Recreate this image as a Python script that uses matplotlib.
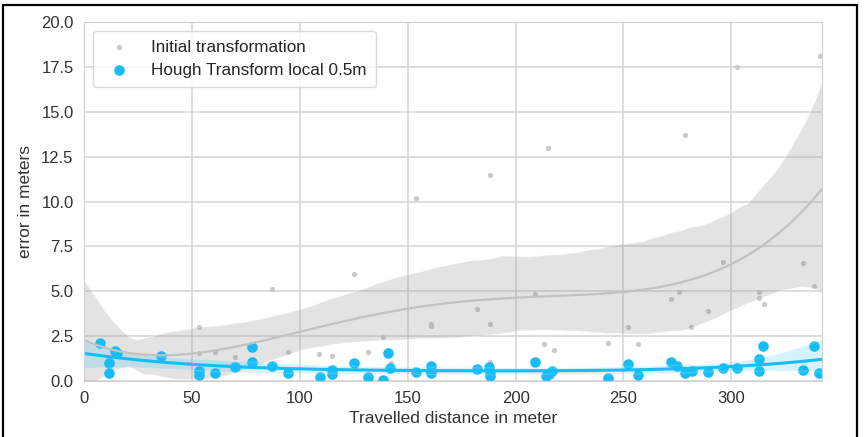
import matplotlib
matplotlib.use("Agg")
import matplotlib.pyplot as plt
import seaborn as sns
from matplotlib.lines import Line2D
from matplotlib.collections import PolyCollection

# Error of the initial transformation vs. travelled distance
init_dist = [7.4, 11.6, 15.0, 35.6, 53.2, 53.2, 60.6, 69.9, 87.0, 94.4, 108.8,
             115.0, 125.0, 131.5, 138.5, 142.5, 154.0, 160.6, 161.0, 182.0,
             188.0, 188.0, 188.0, 208.8, 213.4, 214.8, 217.6, 243.0, 252.0,
             256.5, 272.0, 275.5, 278.7, 281.5, 289.0, 296.0, 302.8, 313.0,
             313.0, 315.0, 333.3, 338.5, 341.0]
init_err = [2.12, 1.3, 1.5, 1.39, 3.0, 1.56, 1.62, 1.34, 5.1, 1.62, 1.5,
            1.4, 5.96, 1.6, 2.45, 1.0, 10.2, 3.2, 3.05, 4.0,
            11.5, 3.2, 1.06, 4.85, 2.06, 13.0, 1.73, 2.12, 3.0,
            2.06, 4.57, 4.96, 13.7, 3.0, 3.9, 6.63, 17.5, 4.96,
            4.6, 4.3, 6.57, 5.3, 18.1]

# Error after local Hough transform refinement
hough_dist = [7.4, 11.6, 11.6, 14.4, 15.3, 35.6, 53.2, 53.2, 60.6, 69.9, 77.7,
              77.8, 87.0, 94.4, 109.5, 115.0, 115.0, 125.0, 131.5, 138.5, 141.0,
              142.0, 154.0, 160.6, 161.0, 182.0, 187.6, 188.0, 188.0, 208.8,
              214.2, 215.7, 217.0, 243.0, 252.0, 256.5, 272.0, 275.0, 278.5,
              281.7, 289.0, 296.0, 302.6, 313.0, 313.0, 314.8, 333.3, 338.5,
              340.7]
hough_err = [2.12, 1.0, 0.44, 1.67, 1.56, 1.39, 0.56, 0.33, 0.44, 0.8, 1.06,
             1.89, 0.83, 0.44, 0.22, 0.61, 0.39, 1.0, 0.22, 0.06, 1.56,
             0.72, 0.5, 0.83, 0.44, 0.67, 0.8, 0.5, 0.28, 1.06,
             0.28, 0.39, 0.56, 0.17, 0.95, 0.33, 1.06, 0.83, 0.44,
             0.56, 0.5, 0.72, 0.72, 1.22, 0.56, 1.95, 0.61, 1.95,
             0.44]

x_ticks = [0, 50, 100, 150, 200, 250, 300]
y_ticks = [0.0, 2.5, 5.0, 7.5, 10.0, 12.5, 15.0, 17.5, 20.0]

sns.set_style("whitegrid")
plt.rcParams["font.family"] = ["Liberation Sans", "DejaVu Sans"]

fig = plt.figure(figsize=(8.64, 4.37), dpi=100)
ax = fig.add_axes([0.0972, 0.1281, 0.8542, 0.8216])
ax.set_xlim(0, 342)
ax.set_ylim(0, 20)

GRAY_PT = "#c9c9c9"
BLUE = "#16bdf7"

sns.regplot(x=init_dist, y=init_err, order=4, ax=ax, truncate=False, seed=3,
            label="Initial transformation",
            scatter_kws=dict(s=14, color=GRAY_PT, alpha=1, linewidths=0),
            line_kws=dict(color="#c2c2c2", lw=1.6))
n_before = len(ax.collections)
sns.regplot(x=hough_dist, y=hough_err, order=4, ax=ax, truncate=False, seed=3,
            label="Hough Transform local 0.5m",
            scatter_kws=dict(s=58, color=BLUE, alpha=1, linewidths=0),
            line_kws=dict(color=BLUE, lw=2.2))

# confidence bands
for i, c in enumerate(ax.collections):
    if isinstance(c, PolyCollection):
        if i < n_before:
            c.set_facecolor("#8a8a8a")
            c.set_alpha(0.23)
        else:
            c.set_facecolor(BLUE)
            c.set_alpha(0.17)

ax.set_xlim(0, 342)
ax.set_ylim(0, 20)
ax.set_xticks(x_ticks)
ax.set_yticks(y_ticks)
ax.set_yticklabels([f"{v:.1f}" for v in y_ticks])
ax.tick_params(labelsize=12, colors="#333333", pad=4)
ax.set_xlabel("Travelled distance in meter", fontsize=12.5, color="#333333",
              labelpad=3)
ax.set_ylabel("error in meters", fontsize=12.5, color="#333333", labelpad=6)
for s in ax.spines.values():
    s.set_color("#d0d0d0")
ax.grid(color="#d4d4d4", lw=1.1)

leg = ax.legend(loc="upper left", fontsize=12.3, frameon=True,
                borderpad=0.55, handletextpad=0.9, labelspacing=0.45)
leg.get_frame().set_edgecolor("#d0d0d0")

# black frame around the figure
for xs, ys in [([0.003, 0.003], [0, 0.989]), ([0.003, 0.992], [0.989, 0.989]),
               ([0.992, 0.992], [0, 0.989])]:
    fig.add_artist(Line2D(xs, ys, color="black", lw=1.6, transform=fig.transFigure))

fig.savefig("out.png", dpi=100)
